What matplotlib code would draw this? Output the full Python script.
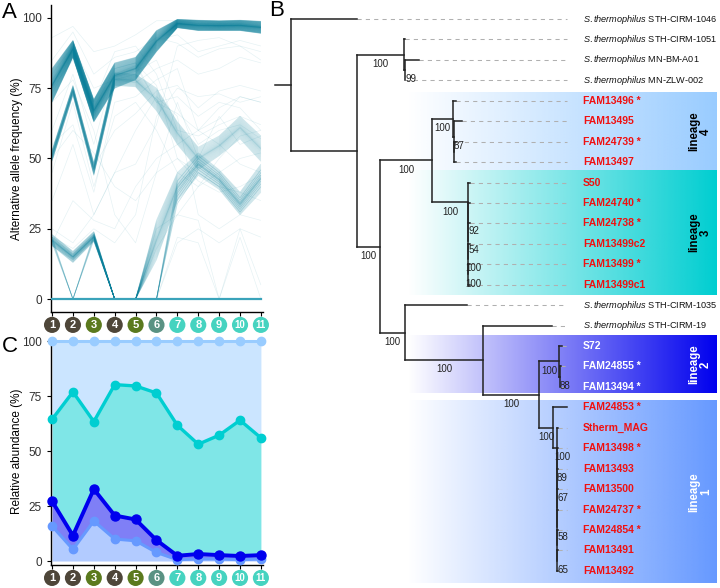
import numpy as np
import matplotlib.pyplot as plt
from matplotlib.collections import LineCollection

plt.rcParams['font.family'] = ['Liberation Sans', 'DejaVu Sans']
plt.rcParams['mathtext.fontset'] = 'custom'
plt.rcParams['mathtext.it'] = 'Liberation Sans:italic'
plt.rcParams['mathtext.rm'] = 'Liberation Sans'

# ---------------- data ----------------
samples = np.arange(1, 12)
sample_colors = ['#4E4639', '#4E4639', '#5B7A1E', '#4E4639', '#5B7A1E', '#5A9283',
                 '#46D3C0', '#46D3C0', '#46D3C0', '#46D3C0', '#46D3C0']

# panel A: bundles of allele frequency trajectories (lower / upper edge per sample)
main_lo = [70, 86, 63, 75, 78, 88, 96.5, 95.5, 95.5, 95.5, 94.5]
main_hi = [82, 92, 71, 84, 86, 95.5, 99.5, 99.2, 99.0, 99.2, 98.8]
mid_lo = [49, 72.5, 44, 76, 75.5, 67, 55, 46, 51, 57, 49]
mid_hi = [53, 76, 48.5, 80.5, 80, 75, 63, 54, 58, 65, 58]
low_lo = [19, 13, 20.5, 0, 0, 14, 35, 44, 39, 30, 38]
low_hi = [23, 17, 24, 0, 0, 28, 45, 52, 46, 38, 48]
late_lo = [19, 14, 21, 0, 0, 0, 34, 45, 40, 31, 40]
late_hi = [22, 16, 23, 0, 0, 0, 42, 51, 45, 36, 46]
dip_lo = [20, 0, 21, 0, 0, 0, 0, 0, 0, 0, 0]
dip_hi = [22, 0, 23, 0, 0, 0, 0, 0, 0, 0, 0]
zero_line = [0] * 11
strays = [
    [93, 97, 88, 90, 94, 99, 99, 98, 98, 98, 97],
    [60, 80, 55, 82, 84, 70, 72, 65, 70, 68, 60],
    [45, 70, 40, 65, 70, 60, 45, 40, 45, 50, 52],
    [22, 18, 25, 20, 30, 65, 75, 72, 73, 70, 72],
    [35, 55, 30, 45, 48, 62, 90, 92, 93, 90, 88],
    [0, 0, 0, 0, 0, 0, 20, 25, 20, 25, 22],
    [0, 0, 0, 0, 0, 0, 22, 20, 0, 22, 0],
    [0, 0, 0, 0, 0, 25, 30, 28, 0, 25, 5],
    [75, 85, 70, 88, 90, 80, 60, 58, 62, 65, 62],
    [50, 60, 52, 40, 35, 45, 50, 45, 40, 38, 35],
    [80, 90, 75, 78, 80, 92, 94, 88, 90, 92, 90],
    [20, 35, 28, 25, 40, 50, 55, 60, 68, 72, 70],
    [70, 78, 60, 30, 20, 45, 70, 50, 65, 55, 58],
    [85, 95, 80, 86, 88, 93, 91, 86, 89, 90, 85],
    [55, 62, 38, 70, 72, 78, 82, 60, 55, 48, 45],
    [25, 20, 30, 45, 60, 72, 65, 30, 25, 30, 28],
    [78, 88, 66, 80, 83, 70, 66, 60, 64, 72, 70],
    [52, 74, 46, 78, 77, 82, 85, 80, 82, 86, 84],
    [76, 90, 68, 82, 84, 76, 50, 42, 38, 40, 44],
    [21, 15, 22, 0, 0, 18, 30, 40, 50, 58, 60],
    [50, 75, 47, 60, 66, 74, 76, 68, 74, 76, 74],
    [73, 88, 65, 79, 81, 85, 68, 55, 60, 62, 57],
]

# panel C: relative abundance of lineages 1-4 (%)
lin1 = [15.9, 5.3, 18.2, 10.0, 9.2, 3.9, 0.6, 0.9, 0.9, 0.6, 0.9]
lin2 = [11.3, 6.3, 14.5, 10.7, 9.7, 5.6, 1.8, 2.3, 1.8, 1.7, 1.8]
lin3 = [37.2, 65.3, 30.7, 59.5, 60.7, 66.9, 59.3, 49.9, 54.5, 61.7, 53.3]
lin4 = [35.6, 23.1, 36.6, 19.8, 20.4, 23.6, 38.3, 46.9, 42.8, 36.0, 44.0]
lin_colors = ['#6699FF', '#0000EE', '#00CED1', '#99CCFF']

# panel B: tree (newick, branch lengths scaled)
clade_L4 = ("(FAM13496 *:0.03,(FAM13495:0.08,(FAM24739 *:0.02,FAM13497:0.02):0.0)87:0.01)100:0.21")
clade_L3 = ("(S50:0.02,(FAM24740 *:0.02,(FAM24738 *:0.02,(FAM13499c2:0.02,"
            "(FAM13499 *:0.02,FAM13499c1:0.02)100:0.0)100:0.0)54:0.0)92:0.0)100:0.36")
clade_L2 = "(S72:0.03,(FAM24855 *:0.01,FAM13494 *:0.0)88:0.005)100:0.20"
clade_L1 = ("(FAM24853 *:0.14,(Stherm_MAG:0.01,(FAM13498 *:0.01,(FAM13493:0.01,(FAM13500:0.01,"
            "(FAM24737 *:0.01,(FAM24854 *:0.01,(FAM13491:0.01,FAM13492:0.01)65:0.0):0.0)58:0.0)"
            ":0.0)67:0.0)89:0.0)100:0.04)100:0.14")
newick = ("(STH-CIRM-1046:0.66,((STH-CIRM-1051:0.01,(MN-BM-A01:0.14,MN-ZLW-002:0.0)99:0.01)100:0.47,"
          "((" + clade_L4 + "," + clade_L3 + ")100:0.52,"
          "(STH-CIRM-1035:0.62,(STH-CIRM-19:0.69,(" + clade_L2 + "," + clade_L1 + ")100:0.56)100:0.78)100:0.25"
          ")100:0.23):0.66);")
lineages = ['1', '2', '3', '4']
lineage_tips = [(19, 27), (16, 18), (8, 13), (4, 7)]
lineage_text = ['white', 'white', 'black', 'black']

# ---------------- figure ----------------
W, H = 720, 588
fig = plt.figure(figsize=(W / 100, H / 100), dpi=100)


def box(l, t, r, b):
    return [l / W, 1 - b / H, (r - l) / W, (b - t) / H]


teal = '#0A809B'

# ---- panel A ----
axA = fig.add_axes(box(51, 5, 263, 312))


def bundle(ax, lo, hi, n, alpha, lw=0.5, z=2):
    lo, hi = np.asarray(lo, float), np.asarray(hi, float)
    u = np.linspace(-1, 1, n)
    f = 0.5 + 0.5 * np.sign(u) * np.abs(u) ** 1.25
    segs = [np.column_stack([samples, lo + k * (hi - lo)]) for k in f]
    ax.add_collection(LineCollection(segs, colors=teal, alpha=alpha, linewidths=lw, zorder=z))


axA.add_collection(LineCollection([np.column_stack([samples, s]) for s in strays],
                                  colors=teal, alpha=0.1, linewidths=0.5, zorder=1))
bundle(axA, main_lo, main_hi, 90, 0.25)
bundle(axA, mid_lo, mid_hi, 30, 0.2)
bundle(axA, low_lo, low_hi, 30, 0.2)
bundle(axA, late_lo, late_hi, 8, 0.25)
bundle(axA, dip_lo, dip_hi, 4, 0.3)
axA.plot(samples, zero_line, color='#3AA3BA', lw=1.6, zorder=3)

axA.set_xlim(0.95, 11.1)
axA.set_ylim(-4.6, 104.6)
axA.set_yticks([0, 25, 50, 75, 100])
axA.set_xticks(samples)
axA.tick_params(axis='x', length=3, width=0.8, labelbottom=False)
axA.tick_params(axis='y', length=3, width=0.8, labelsize=8.5, labelcolor='#303030')
for s in ['top', 'right']:
    axA.spines[s].set_visible(False)
for s in ['left', 'bottom']:
    axA.spines[s].set_linewidth(1.0)
axA.set_ylabel('Alternative allele frequency (%)', fontsize=8.5)
axA.yaxis.set_label_coords(-0.13, 0.5)

# ---- panel C ----
axC = fig.add_axes(box(51, 338, 263, 565))
cum = np.cumsum([lin1, lin2, lin3, lin4], axis=0)
prev = np.zeros(len(samples))
for i in range(4):
    axC.fill_between(samples, prev, cum[i], color=lin_colors[i], alpha=0.5, lw=0, zorder=1)
    prev = cum[i]
for i, lw, ms in [(3, 2.2, 6), (2, 2.4, 6), (0, 2.2, 6), (1, 2.8, 6.5)]:
    axC.plot(samples, cum[i], color=lin_colors[i], lw=lw, marker='o', ms=ms,
             zorder=3, clip_on=False)
axC.set_xlim(0.95, 11.1)
axC.set_ylim(-1.8, 101.4)
axC.set_yticks([0, 25, 50, 75, 100])
axC.set_xticks(samples)
axC.tick_params(axis='x', length=3, width=0.8, labelbottom=False)
axC.tick_params(axis='y', length=3, width=0.8, labelsize=8.5, labelcolor='#303030')
for s in ['top', 'right']:
    axC.spines[s].set_visible(False)
for s in ['left', 'bottom']:
    axC.spines[s].set_linewidth(1.0)
axC.set_ylabel('Relative abundance (%)', fontsize=8.5)
axC.yaxis.set_label_coords(-0.13, 0.5)

# sample badges under A and C
for ax, yb in [(axA, -0.042), (axC, -0.057)]:
    tr = ax.get_xaxis_transform()
    ax.scatter(samples, [yb] * len(samples), s=135, c=sample_colors, transform=tr,
               clip_on=False, zorder=5, linewidths=0)
    for sx in samples:
        ax.text(sx, yb, str(sx), transform=tr, ha='center', va='center', color='white',
                fontsize=8 if sx < 10 else 7, fontweight='bold', zorder=6)

# ---- panel B: tree ----
axB = fig.add_axes(box(270, 0, 720, 588))
axB.axis('off')


def parse(s):
    pos = 0

    def node():
        nonlocal pos
        kids = []
        if s[pos] == '(':
            pos += 1
            while True:
                kids.append(node())
                if s[pos] == ',':
                    pos += 1
                else:
                    break
            pos += 1
        start = pos
        while s[pos] not in ',();':
            pos += 1
        txt = s[start:pos]
        length = 0.0
        if ':' in txt:
            txt, length = txt.split(':')
            length = float(length)
        return {'label': txt, 'length': length, 'children': kids}
    return node()


tree = parse(newick)
tips = []


def layout(nd, x0):
    nd['x'] = x0 + nd['length']
    if nd['children']:
        for c in nd['children']:
            layout(c, nd['x'])
        nd['y'] = (nd['children'][0]['y'] + nd['children'][-1]['y']) / 2
    else:
        nd['y'] = len(tips)
        tips.append(nd)


layout(tree, 0.0)

label_x = 2.92
dash_end = 2.76
box_x0, box_x1 = 1.16, 4.26
box_pad_top = [0.31, 0.49, 0.61, 0.38]
box_pad_bot = [0.6, 0.3, 0.5, 0.39]

# lineage highlight boxes (white -> colour gradient)
for (t0, t1), col, pt, pb in zip(lineage_tips, lin_colors, box_pad_top, box_pad_bot):
    rgb = np.array(plt.matplotlib.colors.to_rgb(col))
    grad = np.zeros((1, 256, 4))
    grad[0, :, :3] = rgb
    grad[0, :, 3] = np.linspace(0, 1, 256)
    axB.imshow(grad, extent=[box_x0, box_x1, t1 + pb, t0 - pt], aspect='auto',
               interpolation='bilinear', zorder=0)

segs = []
supports = []


def collect(nd):
    if not nd['children']:
        return
    ys = [c['y'] for c in nd['children']]
    segs.append([(nd['x'], min(ys)), (nd['x'], max(ys))])
    for c in nd['children']:
        segs.append([(nd['x'], c['y']), (c['x'], c['y'])])
        if c['children'] and c['label']:
            if c['length'] < 0.08:
                xm = c['x'] + 0.055
            else:
                xm = (nd['x'] + c['x']) / 2
            supports.append((xm, c['y'] + 0.45, c['label']))
        collect(c)


collect(tree)
segs.append([(-0.16, tree['y']), (0.0, tree['y'])])
axB.add_collection(LineCollection(segs, colors='#222222', linewidths=1.1,
                                  capstyle='projecting', zorder=3))
for xm, ym, t in supports:
    axB.text(xm, ym, t, fontsize=7, ha='center', va='center', color='#222222', zorder=4)

lin2_names = [tips[i]['label'] for i in range(lineage_tips[1][0], lineage_tips[1][1] + 1)]
for tp in tips:
    name = tp['label']
    if tp['x'] < dash_end:
        axB.plot([tp['x'], dash_end], [tp['y'], tp['y']], color='#B0B0B0', lw=0.75,
                 ls=(0, (4, 4)), zorder=2)
    if name.startswith('STH') or name.startswith('MN'):
        axB.text(label_x, tp['y'], r'$\mathit{S.thermophilus}$ ' + name, fontsize=6.6,
                 va='center', ha='left', color='#111111')
    else:
        axB.text(label_x, tp['y'], name, fontsize=7.5, fontweight='bold', va='center',
                 ha='left', color='white' if name in lin2_names else '#F01010')

for lab, (t0, t1), tc, pt, pb in zip(lineages, lineage_tips, lineage_text, box_pad_top, box_pad_bot):
    axB.text(4.09, (t0 - pt + t1 + pb) / 2, 'lineage\n' + lab, rotation=90, ha='center',
             va='center', fontsize=8.3, fontweight='bold', color=tc, linespacing=1.0, zorder=5)

axB.set_xlim(-0.21, 4.29)
axB.set_ylim(27.84, -0.93)

# panel letters
fig.text(2 / W, 1 - 13 / H, 'A', fontsize=16, va='center', ha='left')
fig.text(269 / W, 1 - 10 / H, 'B', fontsize=16, va='center', ha='left')
fig.text(2 / W, 1 - 346 / H, 'C', fontsize=16, va='center', ha='left')

fig.savefig('out.png', dpi=100)
